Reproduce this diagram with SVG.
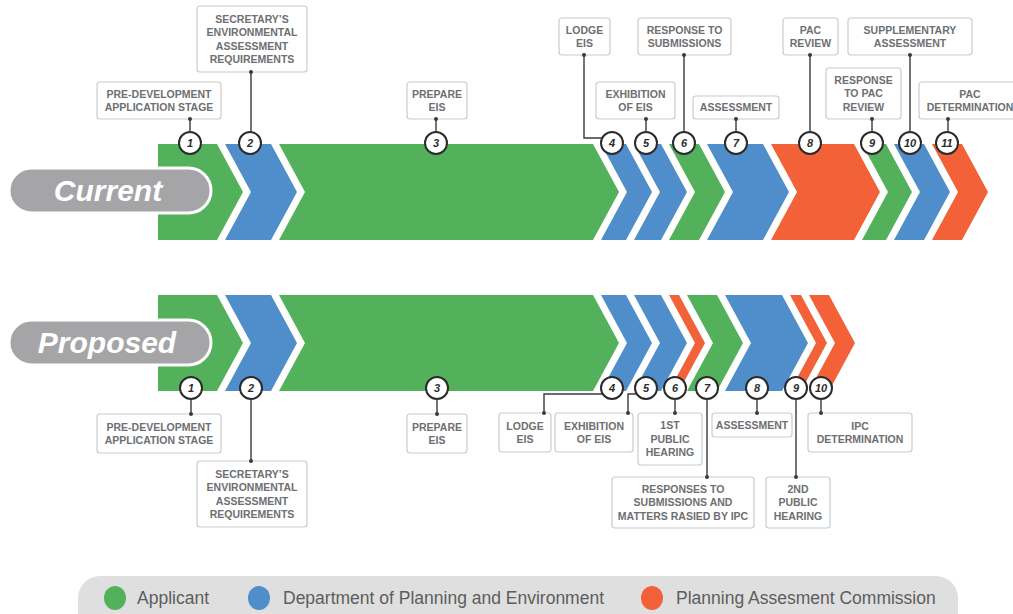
<svg xmlns="http://www.w3.org/2000/svg" width="1013" height="614" viewBox="0 0 1013 614">
<style>
.g{fill:#53b05b}.b{fill:#4f8ecb}.o{fill:#f36139}
.badge{fill:#fff;stroke:#2b2b2b;stroke-width:2}
.num{font-family:"Liberation Sans",Arial,sans-serif;font-style:italic;font-weight:bold;font-size:11px;fill:#2b2b2b;text-anchor:middle}
.box{fill:#fff;stroke:#cccccc;stroke-width:1.2}
.lbl{font-family:"Liberation Sans",Arial,sans-serif;font-weight:bold;font-size:10.5px;fill:#6e6f72;text-anchor:middle}
.conn{fill:none;stroke:#3a3a3a;stroke-width:1.4}
.dot{fill:#3a3a3a}
.pill{fill:#a5a5a7;stroke:#fff;stroke-width:3}
.pilltxt{font-family:"Liberation Sans",Arial,sans-serif;font-style:italic;font-weight:bold;font-size:30px;fill:#fff;text-anchor:middle}
.leg{font-family:"Liberation Sans",Arial,sans-serif;font-size:17.5px;fill:#5d5d5d}
</style>

<!-- CURRENT ROW -->
<g id="cur-1"><polygon class="g" points="158,144 217,144 243,192 217,240 158,240"/><circle class="badge" cx="190" cy="143" r="11"/><text class="num" x="190" y="147">1</text>
<rect class="box" x="97" y="82" width="124" height="37" rx="3"/><text class="lbl" x="159" y="97.5">PRE-DEVELOPMENT</text><text class="lbl" x="159" y="111">APPLICATION STAGE</text></g>
<g id="cur-2"><polygon class="b" points="225,144 271,144 297,192 271,240 225,240 251,192"/><circle class="badge" cx="250" cy="143" r="11"/><text class="num" x="250" y="147">2</text>
<rect class="box" x="197" y="6" width="110" height="66" rx="3"/><text class="lbl" x="252" y="22.5">SECRETARY’S</text><text class="lbl" x="252" y="36">ENVIRONMENTAL</text><text class="lbl" x="252" y="49.5">ASSESSMENT</text><text class="lbl" x="252" y="63">REQUIREMENTS</text></g>
<g id="cur-3"><polygon class="g" points="279,144 593,144 619,192 593,240 279,240 305,192"/><circle class="badge" cx="436" cy="143" r="11"/><text class="num" x="436" y="147">3</text>
<rect class="box" x="407" y="82" width="60" height="37" rx="3"/><text class="lbl" x="437" y="97.5">PREPARE</text><text class="lbl" x="437" y="111">EIS</text></g>
<g id="cur-4"><polygon class="b" points="601,144 626,144 652,192 626,240 601,240 627,192"/><circle class="badge" cx="612" cy="143" r="11"/><text class="num" x="612" y="147">4</text>
<rect class="box" x="559" y="18" width="51" height="37" rx="3"/><text class="lbl" x="584.5" y="33.5">LODGE</text><text class="lbl" x="584.5" y="47">EIS</text></g>
<g id="cur-5"><polygon class="b" points="634,144 661,144 687,192 661,240 634,240 660,192"/><circle class="badge" cx="646" cy="143" r="11"/><text class="num" x="646" y="147">5</text>
<rect class="box" x="596" y="82" width="79" height="37" rx="3"/><text class="lbl" x="635.5" y="97.5">EXHIBITION</text><text class="lbl" x="635.5" y="111">OF EIS</text></g>
<g id="cur-6"><polygon class="g" points="669,144 699,144 725,192 699,240 669,240 695,192"/><circle class="badge" cx="684" cy="143" r="11"/><text class="num" x="684" y="147">6</text>
<rect class="box" x="638" y="18" width="93" height="37" rx="3"/><text class="lbl" x="684.5" y="33.5">RESPONSE TO</text><text class="lbl" x="684.5" y="47">SUBMISSIONS</text></g>
<g id="cur-7"><polygon class="b" points="707,144 763,144 789,192 763,240 707,240 733,192"/><circle class="badge" cx="736" cy="143" r="11"/><text class="num" x="736" y="147">7</text>
<rect class="box" x="693" y="96" width="86" height="23" rx="3"/><text class="lbl" x="736" y="111.3">ASSESSMENT</text></g>
<g id="cur-8"><polygon class="o" points="771,144 854,144 880,192 854,240 771,240 797,192"/><circle class="badge" cx="810" cy="143" r="11"/><text class="num" x="810" y="147">8</text>
<rect class="box" x="783" y="18" width="55" height="37" rx="3"/><text class="lbl" x="810.5" y="33.5">PAC</text><text class="lbl" x="810.5" y="47">REVIEW</text></g>
<g id="cur-9"><polygon class="g" points="862,144 886,144 912,192 886,240 862,240 888,192"/><circle class="badge" cx="872" cy="143" r="11"/><text class="num" x="872" y="147">9</text>
<rect class="box" x="826" y="68" width="75" height="51" rx="3"/><text class="lbl" x="863.5" y="83.8">RESPONSE</text><text class="lbl" x="863.5" y="97.3">TO PAC</text><text class="lbl" x="863.5" y="110.8">REVIEW</text></g>
<g id="cur-10"><polygon class="b" points="894,144 924,144 950,192 924,240 894,240 920,192"/><circle class="badge" cx="910" cy="143" r="11"/><text class="num" x="910" y="147">10</text>
<rect class="box" x="848" y="18" width="124" height="37" rx="3"/><text class="lbl" x="910" y="33.5">SUPPLEMENTARY</text><text class="lbl" x="910" y="47">ASSESSMENT</text></g>
<g id="cur-11"><polygon class="o" points="932,144 962,144 988,192 962,240 932,240 958,192"/><circle class="badge" cx="947" cy="143" r="11"/><text class="num" x="947" y="147">11</text>
<rect class="box" x="919" y="82" width="104" height="37" rx="3"/><text class="lbl" x="970" y="97.5">PAC</text><text class="lbl" x="970" y="111">DETERMINATION</text></g>

<!-- PROPOSED ROW -->
<g id="prop-1"><polygon class="g" points="158,295 217,295 243,343 217,391 158,391"/><circle class="badge" cx="191" cy="388" r="11"/><text class="num" x="191" y="392">1</text>
<rect class="box" x="97" y="414" width="124" height="39" rx="3"/><text class="lbl" x="159" y="430.5">PRE-DEVELOPMENT</text><text class="lbl" x="159" y="444">APPLICATION STAGE</text></g>
<g id="prop-2"><polygon class="b" points="225,295 271,295 297,343 271,391 225,391 251,343"/><circle class="badge" cx="251" cy="388" r="11"/><text class="num" x="251" y="392">2</text>
<rect class="box" x="197" y="461" width="110" height="66" rx="3"/><text class="lbl" x="252" y="477.5">SECRETARY’S</text><text class="lbl" x="252" y="491">ENVIRONMENTAL</text><text class="lbl" x="252" y="504.5">ASSESSMENT</text><text class="lbl" x="252" y="518">REQUIREMENTS</text></g>
<g id="prop-3"><polygon class="g" points="279,295 593,295 619,343 593,391 279,391 305,343"/><circle class="badge" cx="437" cy="388" r="11"/><text class="num" x="437" y="392">3</text>
<rect class="box" x="407" y="414" width="60" height="39" rx="3"/><text class="lbl" x="437" y="430.5">PREPARE</text><text class="lbl" x="437" y="444">EIS</text></g>
<g id="prop-4"><polygon class="b" points="601,295 626,295 652,343 626,391 601,391 627,343"/><circle class="badge" cx="612" cy="388" r="11"/><text class="num" x="612" y="392">4</text>
<rect class="box" x="499" y="413" width="52" height="39" rx="3"/><text class="lbl" x="525" y="429.5">LODGE</text><text class="lbl" x="525" y="443">EIS</text></g>
<g id="prop-5"><polygon class="b" points="634,295 661,295 687,343 661,391 634,391 660,343"/><circle class="badge" cx="646" cy="388" r="11"/><text class="num" x="646" y="392">5</text>
<rect class="box" x="555" y="413" width="78" height="39" rx="3"/><text class="lbl" x="594" y="429.5">EXHIBITION</text><text class="lbl" x="594" y="443">OF EIS</text></g>
<g id="prop-6"><polygon class="o" points="669,295 679,295 705,343 679,391 669,391 695,343"/><circle class="badge" cx="675" cy="388" r="11"/><text class="num" x="675" y="392">6</text>
<rect class="box" x="638" y="413" width="64" height="52" rx="3"/><text class="lbl" x="670" y="429.3">1ST</text><text class="lbl" x="670" y="442.8">PUBLIC</text><text class="lbl" x="670" y="456.3">HEARING</text></g>
<g id="prop-7"><polygon class="g" points="687,295 717,295 743,343 717,391 687,391 713,343"/><circle class="badge" cx="707" cy="388" r="11"/><text class="num" x="707" y="392">7</text>
<rect class="box" x="612" y="477" width="142" height="51" rx="3"/><text class="lbl" x="683" y="492.8">RESPONSES TO</text><text class="lbl" x="683" y="506.3">SUBMISSIONS AND</text><text class="lbl" x="683" y="519.8">MATTERS RASIED BY IPC</text></g>
<g id="prop-8"><polygon class="b" points="725,295 782,295 808,343 782,391 725,391 751,343"/><circle class="badge" cx="757" cy="388" r="11"/><text class="num" x="757" y="392">8</text>
<rect class="box" x="712" y="413" width="80" height="24" rx="3"/><text class="lbl" x="752" y="428.8">ASSESSMENT</text></g>
<g id="prop-9"><polygon class="o" points="790,295 801,295 827,343 801,391 790,391 816,343"/><circle class="badge" cx="796" cy="388" r="11"/><text class="num" x="796" y="392">9</text>
<rect class="box" x="766" y="477" width="64" height="51" rx="3"/><text class="lbl" x="798" y="492.8">2ND</text><text class="lbl" x="798" y="506.3">PUBLIC</text><text class="lbl" x="798" y="519.8">HEARING</text></g>
<g id="prop-10"><polygon class="o" points="809,295 829,295 855,343 829,391 809,391 835,343"/><circle class="badge" cx="821" cy="388" r="11"/><text class="num" x="821" y="392">10</text>
<rect class="box" x="808" y="413" width="104" height="39" rx="3"/><text class="lbl" x="860" y="429.5">IPC</text><text class="lbl" x="860" y="443">DETERMINATION</text></g>

<!-- ROW TITLES -->
<g id="title-current"><rect class="pill" x="9" y="168" width="202" height="45" rx="22.5"/><text class="pilltxt" x="108" y="201">Current</text></g>
<g id="title-proposed"><rect class="pill" x="9" y="320" width="202" height="45" rx="22.5"/><text class="pilltxt" x="107" y="353">Proposed</text></g>

<!-- CONNECTORS -->
<g id="connectors">
<path class="conn" d="M190,119V132M251,72V132M436,119V132M584,55V138H602M646,119V132M684,55V132M736,119V132M810,55V132M872,119V132M910,55V132M948,119V132"/>
<path class="conn" d="M191,399V414M251,399V461M437,399V414M602,394H544V413M636,394H628V413M675,399V413M707,399V477M757,399V413M796,399V477M821,399V413"/>
<g class="dot">
<circle cx="190" cy="119" r="2"/><circle cx="251" cy="72" r="2"/><circle cx="436" cy="119" r="2"/><circle cx="584" cy="55" r="2"/><circle cx="646" cy="119" r="2"/><circle cx="684" cy="55" r="2"/><circle cx="736" cy="119" r="2"/><circle cx="810" cy="55" r="2"/><circle cx="872" cy="119" r="2"/><circle cx="910" cy="55" r="2"/><circle cx="948" cy="119" r="2"/>
<circle cx="191" cy="414" r="2"/><circle cx="251" cy="461" r="2"/><circle cx="437" cy="414" r="2"/><circle cx="544" cy="413" r="2"/><circle cx="628" cy="413" r="2"/><circle cx="675" cy="413" r="2"/><circle cx="707" cy="477" r="2"/><circle cx="757" cy="413" r="2"/><circle cx="796" cy="477" r="2"/><circle cx="821" cy="413" r="2"/>
</g>
</g>

<!-- LEGEND -->
<g id="legend">
<rect x="78" y="576" width="880" height="60" rx="22" fill="#dfdfdf"/>
<ellipse class="g" cx="115" cy="598" rx="11" ry="12"/><text class="leg" x="137" y="604">Applicant</text>
<ellipse class="b" cx="259" cy="598" rx="11" ry="12"/><text class="leg" x="283" y="604">Department of Planning and Environment</text>
<ellipse class="o" cx="652" cy="598" rx="11" ry="12"/><text class="leg" x="676" y="604">Planning Assesment Commission</text>
</g>
</svg>
